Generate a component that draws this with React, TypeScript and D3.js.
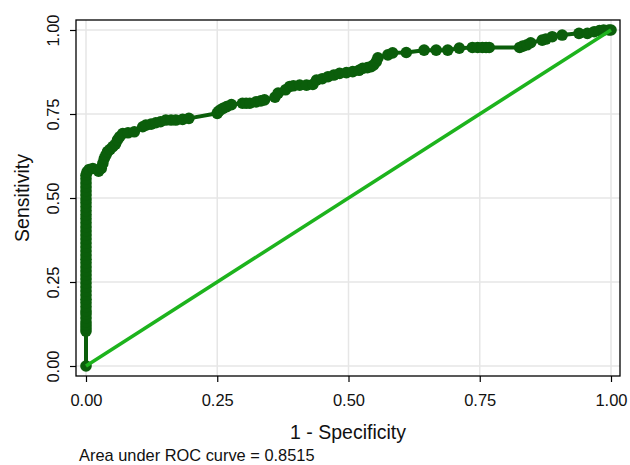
import React, { useEffect, useRef } from "react";
import * as d3 from "d3";

// ROC points (1 - specificity, sensitivity)
const fpr = [
	0, 0, 0, 0, 0, 0, 0, 0, 0, 0, 0, 0, 0, 0, 0, 0, 0, 0, 0, 0, 0, 0, 0, 0, 0, 0, 0, 0, 0, 0, 0, 0, 0, 0, 0, 0, 0, 0, 0, 0, 0, 0,
	0.002, 0.006, 0.013, 0.024, 0.029, 0.032, 0.035, 0.038, 0.041, 0.046, 0.051, 0.056, 0.06, 0.064, 0.07, 0.08, 0.092,
	0.108, 0.114, 0.124, 0.133, 0.142, 0.152, 0.162, 0.171, 0.184, 0.196,
	0.25, 0.252, 0.256, 0.261, 0.268, 0.277, 0.298, 0.305, 0.312, 0.324, 0.333, 0.34, 0.36, 0.366, 0.38, 0.388, 0.395,
	0.407, 0.42, 0.432, 0.439, 0.45, 0.461, 0.472, 0.483, 0.496, 0.508, 0.52, 0.527, 0.536, 0.543, 0.548, 0.553, 0.556,
	0.575, 0.584, 0.61, 0.644, 0.667, 0.689, 0.711, 0.736, 0.746, 0.755, 0.762, 0.768,
	0.826, 0.832, 0.84, 0.847, 0.869, 0.876, 0.888, 0.907, 0.939, 0.955, 0.968, 0.978, 0.986, 0.996, 1,
];
const tpr = [
	0, 0.104, 0.113, 0.122, 0.131, 0.143, 0.155, 0.164, 0.176, 0.188, 0.199, 0.211, 0.223, 0.235, 0.247, 0.259, 0.271,
	0.283, 0.295, 0.307, 0.318, 0.33, 0.342, 0.354, 0.366, 0.378, 0.39, 0.402, 0.414, 0.426, 0.438, 0.45, 0.462,
	0.474, 0.486, 0.497, 0.509, 0.521, 0.533, 0.545, 0.557, 0.568,
	0.578, 0.585, 0.588, 0.58, 0.588, 0.603, 0.618, 0.628, 0.638, 0.645, 0.653, 0.66, 0.673, 0.682, 0.692, 0.694, 0.697,
	0.712, 0.717, 0.72, 0.724, 0.727, 0.732, 0.732, 0.732, 0.734, 0.737,
	0.752, 0.757, 0.762, 0.767, 0.772, 0.778, 0.782, 0.782, 0.782, 0.786, 0.789, 0.792, 0.8, 0.812, 0.822, 0.832, 0.834,
	0.836, 0.836, 0.838, 0.851, 0.855, 0.861, 0.866, 0.871, 0.873, 0.876, 0.88, 0.886, 0.888, 0.891, 0.896, 0.906, 0.917,
	0.926, 0.932, 0.933, 0.94, 0.94, 0.94, 0.946, 0.948, 0.948, 0.948, 0.948, 0.948,
	0.948, 0.952, 0.956, 0.962, 0.97, 0.973, 0.98, 0.985, 0.99, 0.99, 0.995, 0.998, 1, 1, 1,
];
const ticks = [0, 0.25, 0.5, 0.75, 1];
const aucNote = "Area under ROC curve = 0.8515";

const font = "'Liberation Sans', Arial, sans-serif";

const App = () => {
	const svgRef = useRef(null);

	useEffect(() => {
		document.body.style.margin = "0";
		const svg = d3.select(svgRef.current);
		svg.selectAll("*").remove();

		// frame of the plot region
		const frame = { left: 76, top: 20, right: 620, bottom: 376 };
		const x = d3.scaleLinear().domain([0, 1]).range([86, 611]);
		const y = d3.scaleLinear().domain([0, 1]).range([366, 30]);

		// grid
		svg
			.append("g")
			.selectAll("line")
			.data(ticks)
			.enter()
			.append("line")
			.attr("x1", (d) => x(d))
			.attr("x2", (d) => x(d))
			.attr("y1", frame.top)
			.attr("y2", frame.bottom)
			.attr("stroke", "#e6e6e6")
			.attr("stroke-width", 1.5);
		svg
			.append("g")
			.selectAll("line")
			.data(ticks)
			.enter()
			.append("line")
			.attr("y1", (d) => y(d))
			.attr("y2", (d) => y(d))
			.attr("x1", frame.left)
			.attr("x2", frame.right)
			.attr("stroke", "#e6e6e6")
			.attr("stroke-width", 1.5);

		// axes
		const fmt = d3.format(".2f");
		const xAxis = svg
			.append("g")
			.attr("transform", `translate(0,${frame.bottom})`)
			.call(d3.axisBottom(x).tickValues(ticks).tickFormat(fmt).tickSize(6).tickSizeOuter(0));
		xAxis.select(".domain").remove();
		xAxis.selectAll("line").attr("stroke", "#000").attr("stroke-width", 1.2);
		xAxis
			.selectAll("text")
			.attr("y", 18)
			.attr("dy", "0.71em")
			.style("font-family", font)
			.style("font-size", "16.5px")
			.attr("fill", "#111");

		const yAxis = svg
			.append("g")
			.attr("transform", `translate(${frame.left},0)`)
			.call(d3.axisLeft(y).tickValues(ticks).tickFormat(fmt).tickSize(6).tickSizeOuter(0));
		yAxis.select(".domain").remove();
		yAxis.selectAll("line").attr("stroke", "#000").attr("stroke-width", 1.2);
		yAxis
			.selectAll("text")
			.attr("x", null)
			.attr("dy", null)
			.attr("transform", "translate(-17,0) rotate(-90)")
			.attr("text-anchor", "middle")
			.style("font-family", font)
			.style("font-size", "16.5px")
			.attr("fill", "#111");

		// ROC curve
		const pts = fpr.map((f, i) => [f, tpr[i]]);
		svg
			.append("path")
			.datum(pts)
			.attr("fill", "none")
			.attr("stroke", "#0b5e0b")
			.attr("stroke-width", 4)
			.attr("stroke-linejoin", "round")
			.attr("d", d3.line().x((d) => x(d[0])).y((d) => y(d[1])));
		svg
			.append("g")
			.selectAll("circle")
			.data(pts)
			.enter()
			.append("circle")
			.attr("cx", (d) => x(d[0]))
			.attr("cy", (d) => y(d[1]))
			.attr("r", 5.8)
			.attr("fill", "#0b5e0b");

		// reference line
		svg
			.append("line")
			.attr("x1", x(0))
			.attr("y1", y(0))
			.attr("x2", x(1))
			.attr("y2", y(1))
			.attr("stroke", "#1db31d")
			.attr("stroke-width", 3.5);

		// frame
		svg
			.append("rect")
			.attr("x", frame.left)
			.attr("y", frame.top)
			.attr("width", frame.right - frame.left)
			.attr("height", frame.bottom - frame.top)
			.attr("fill", "none")
			.attr("stroke", "#000")
			.attr("stroke-width", 1.3);

		// titles
		svg
			.append("text")
			.attr("x", (frame.left + frame.right) / 2)
			.attr("y", 439)
			.attr("text-anchor", "middle")
			.style("font-family", font)
			.style("font-size", "19.5px")
			.attr("fill", "#111")
			.text("1 - Specificity");
		svg
			.append("text")
			.attr("transform", `translate(29,${y(0.5)}) rotate(-90)`)
			.attr("text-anchor", "middle")
			.style("font-family", font)
			.style("font-size", "19.5px")
			.attr("fill", "#111")
			.text("Sensitivity");
		svg
			.append("text")
			.attr("x", 79)
			.attr("y", 461)
			.style("font-family", font)
			.style("font-size", "16.4px")
			.attr("fill", "#111")
			.text(aucNote);
	}, []);

	return <svg ref={svgRef} width={630} height={465} style={{ display: "block", background: "#fff" }}></svg>;
};

export default App;
